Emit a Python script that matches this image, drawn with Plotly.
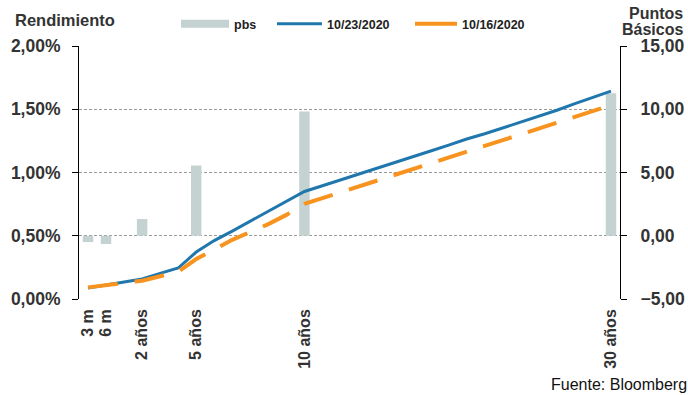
import plotly.graph_objects as go

# ---- data ----
curve_pos = list(range(30))  # category slots along the curve (3m ... 30y)
yield_1023 = [0.087, 0.110, 0.134, 0.158, 0.203, 0.245, 0.371, 0.462, 0.537, 0.616,
              0.697, 0.775, 0.850, 0.895, 0.940, 0.987, 1.032, 1.080, 1.126, 1.170,
              1.217, 1.265, 1.306, 1.352, 1.398, 1.445, 1.492, 1.545, 1.594, 1.643]
yield_1016 = [0.092, 0.112, 0.126, 0.145, 0.180, 0.215, 0.316, 0.392, 0.468, 0.530,
              0.592, 0.665, 0.752, 0.797, 0.842, 0.888, 0.934, 0.980, 1.026, 1.072,
              1.118, 1.164, 1.210, 1.256, 1.302, 1.348, 1.394, 1.440, 1.486, 1.532]
bar_pos = [0, 1, 3, 6, 12, 29]
tick_labels = ["3 m", "6 m", "2 años", "5 años", "10 años", "30 años"]
pbs = [-0.5, -0.65, 1.32, 5.55, 9.82, 11.27]

W, H = 688, 395
L, R, T, B = 79, 68, 46, 96
PW, PH = W - L - R, H - T - B

def px(x):
    return (x - L) / PW

def py(y):
    return (H - B - y) / PH

FONT = "Liberation Sans"
BLUE = "#1f77ad"
ORANGE = "#f7931e"
GRAY = "#c5d2d2"
TXT = "#333333"

fig = go.Figure()
fig.add_trace(go.Bar(x=bar_pos, y=pbs, width=0.58, marker=dict(color=GRAY, line=dict(width=0)),
                     yaxis="y", showlegend=False, hoverinfo="skip"))
fig.add_trace(go.Scatter(x=curve_pos, y=[v / 100 for v in yield_1023], mode="lines",
                         line=dict(color=BLUE, width=3), yaxis="y2", showlegend=False))
fig.add_trace(go.Scatter(x=curve_pos, y=[v / 100 for v in yield_1016], mode="lines",
                         line=dict(color=ORANGE, width=4, dash="30px,17px"), yaxis="y2", showlegend=False))

# legend entries
fig.add_trace(go.Scatter(x=[None], y=[None], mode="lines", name="pbs",
                         line=dict(color=GRAY, width=8), legend="legend"))
fig.add_trace(go.Scatter(x=[None], y=[None], mode="lines", name="10/23/2020",
                         line=dict(color=BLUE, width=3), legend="legend2"))
fig.add_trace(go.Scatter(x=[None], y=[None], mode="lines", name="10/16/2020",
                         line=dict(color=ORANGE, width=4), legend="legend3"))

def leg(x, iw):
    return dict(orientation="h", xanchor="left", yanchor="middle", bgcolor="rgba(0,0,0,0)",
                font=dict(family=FONT, size=12.5, color="#222222", weight="bold"),
                itemwidth=iw, borderwidth=0, x=px(x), y=py(24))

fig.update_layout(
    width=W, height=H,
    margin=dict(l=L, r=R, t=T, b=B, pad=0, autoexpand=False),
    paper_bgcolor="white", plot_bgcolor="white",
    separators=",.",
    legend=leg(176, 48),
    legend2=leg(272, 45),
    legend3=leg(410, 42),
    xaxis=dict(range=[-0.5, 29.5], tickvals=bar_pos, ticktext=tick_labels, tickangle=-90,
               showgrid=False, zeroline=False, showline=False, ticks="",
               ticklabelstandoff=6, automargin=False,
               tickfont=dict(family=FONT, size=16, color=TXT, weight="bold")),
    yaxis=dict(range=[-5, 15], tickvals=[-5, 0, 5, 10, 15], tickformat=".2f", side="right",
               showgrid=True, gridcolor="#9a9a9a", griddash="3px,2px", gridwidth=1,
               zeroline=False, showline=True, linecolor="black", linewidth=1,
               ticks="outside", ticklen=6, tickcolor="black", ticklabelstandoff=10,
               automargin=False,
               tickfont=dict(family=FONT, size=17.5, color=TXT, weight="bold")),
    yaxis2=dict(range=[0, 0.02], tickvals=[0, 0.005, 0.01, 0.015, 0.02], tickformat=".2%",
                side="left", overlaying="y", showgrid=False, zeroline=False,
                showline=True, linecolor="black", linewidth=1,
                ticks="outside", ticklen=6, tickcolor="black", ticklabelstandoff=8,
                automargin=False,
                tickfont=dict(family=FONT, size=17.5, color=TXT, weight="bold")),
    annotations=[
        dict(text="Rendimiento", xref="paper", yref="paper", x=px(13), y=py(20),
             xanchor="left", yanchor="middle", showarrow=False,
             font=dict(family=FONT, size=16.5, color=TXT, weight="bold")),
        dict(text="Puntos", xref="paper", yref="paper", x=px(685), y=py(13),
             xanchor="right", yanchor="middle", showarrow=False,
             font=dict(family=FONT, size=16, color=TXT, weight="bold")),
        dict(text="Básicos", xref="paper", yref="paper", x=px(685), y=py(30),
             xanchor="right", yanchor="middle", showarrow=False,
             font=dict(family=FONT, size=16, color=TXT, weight="bold")),
        dict(text="Fuente: Bloomberg", xref="paper", yref="paper", x=px(689), y=py(384),
             xanchor="right", yanchor="middle", showarrow=False,
             font=dict(family=FONT, size=16, color="#111111")),
    ],
)

fig.write_html("out.html")
